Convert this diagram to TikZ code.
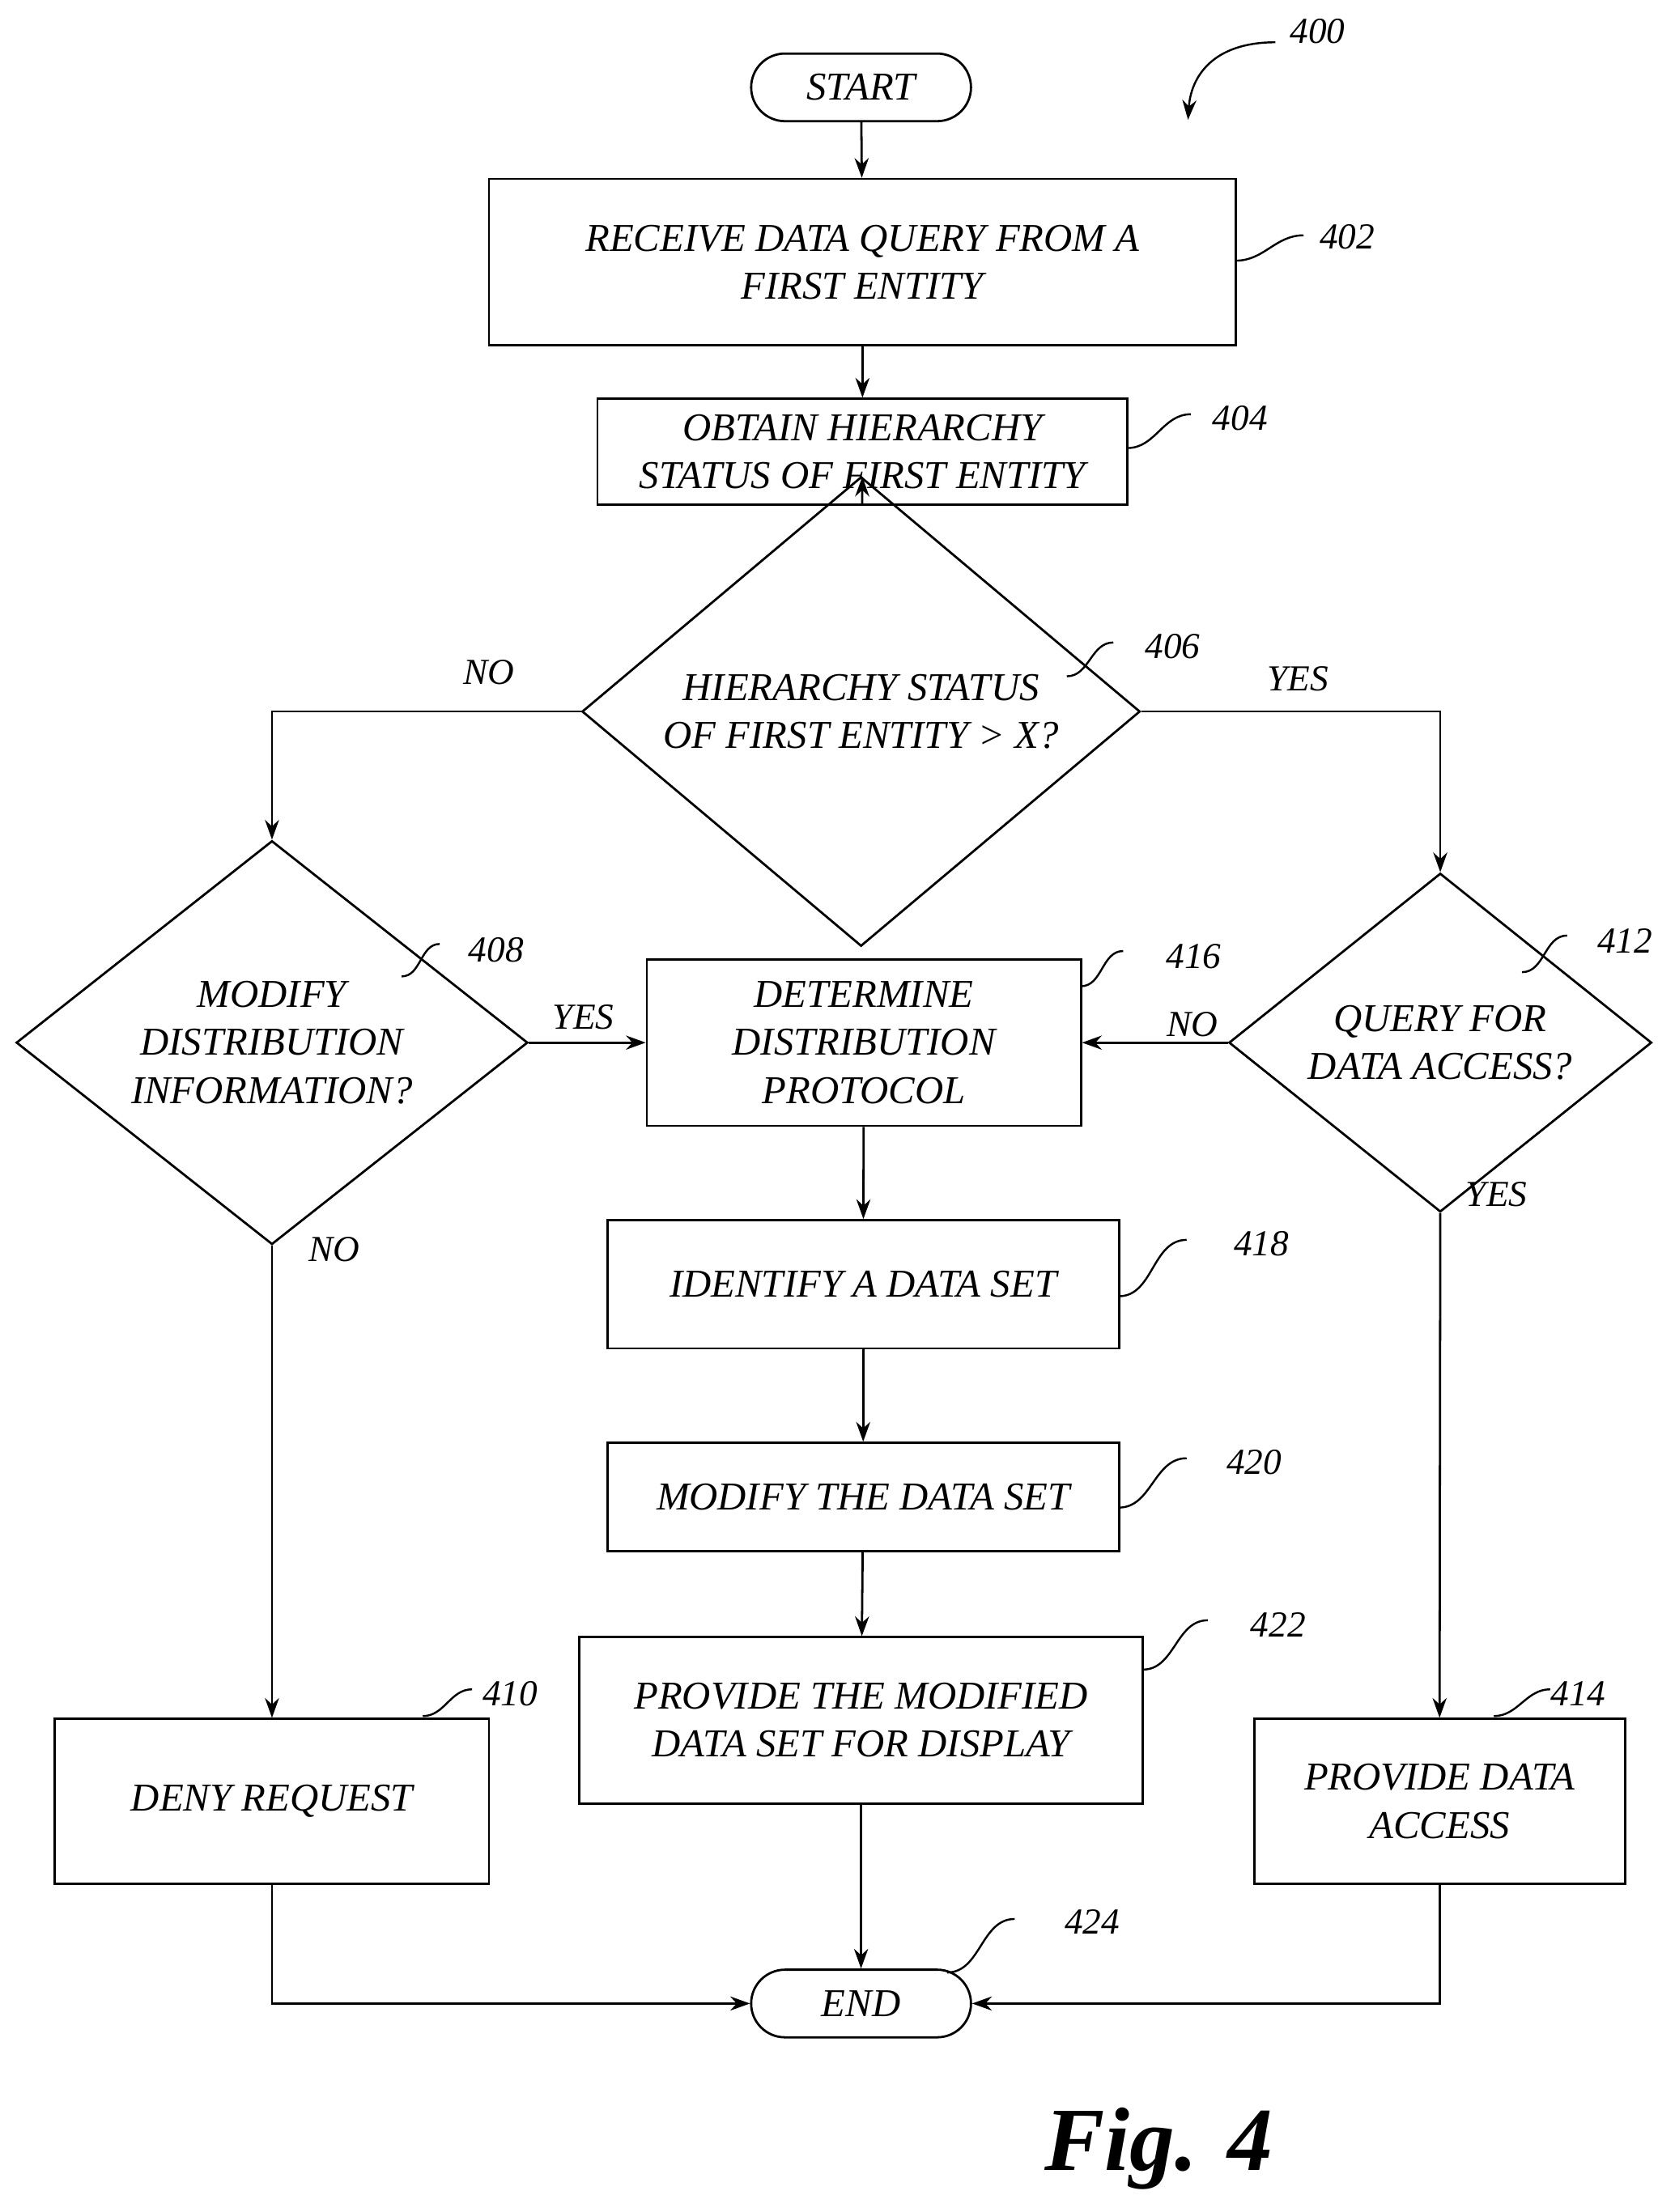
\documentclass[tikz,border=0pt]{standalone}
\usepackage{fontspec}
\setmainfont{Liberation Serif}
\usetikzlibrary{shapes.geometric,arrows.meta}
\begin{document}
\begin{tikzpicture}[x=0.5pt,y=-0.5pt,
  every node/.style={font=\fontsize{14}{17}\selectfont\itshape, align=center, inner sep=0pt},
  box/.style={draw, line width=0.8pt},
  term/.style={draw, line width=0.8pt, rounded corners=12pt, minimum width=78pt, minimum height=24pt},
  dia/.style={draw, diamond, line width=0.8pt},
  arr/.style={-{Stealth[length=7pt,width=5pt]}, line width=0.8pt},
  lead/.style={line width=0.7pt},
  ref/.style={font=\fontsize{13}{15}\selectfont\itshape},
  lab/.style={font=\fontsize{13}{15}\selectfont\itshape}]
\useasboundingbox (0,0) rectangle (1188,1570);
\node[term] (start) at (611,62) {START};
\node[box, minimum width=265pt, minimum height=59pt] (n402) at (612,186) {RECEIVE DATA QUERY FROM A\\FIRST ENTITY};
\node[box, minimum width=188pt, minimum height=37.5pt] (n404) at (612,320.5) {OBTAIN HIERARCHY\\STATUS OF FIRST ENTITY};
\node[dia, minimum width=198pt, minimum height=103pt] (n406) at (611,505) {HIERARCHY STATUS\\OF FIRST ENTITY > X?};
\node[dia, minimum width=181.5pt, minimum height=95pt] (n408) at (193,740) {MODIFY\\DISTRIBUTION\\INFORMATION?};
\node[dia, minimum width=150pt, minimum height=85pt] (n412) at (1022,740) {QUERY FOR\\DATA ACCESS?};
\node[box, minimum width=154pt, minimum height=59pt] (n416) at (613,740) {DETERMINE\\DISTRIBUTION\\PROTOCOL};
\node[box, minimum width=181.5pt, minimum height=45.5pt] (n418) at (612.5,911.5) {IDENTIFY A DATA SET};
\node[box, minimum width=181.5pt, minimum height=38.5pt] (n420) at (612.5,1062.5) {MODIFY THE DATA SET};
\node[box, minimum width=200pt, minimum height=59pt] (n422) at (611,1221) {PROVIDE THE MODIFIED\\DATA SET FOR DISPLAY};
\node[box, minimum width=154pt, minimum height=58.5pt] (n410) at (193,1278.5) {DENY REQUEST};
\node[box, minimum width=131.5pt, minimum height=58.5pt] (n414) at (1021.5,1278.5) {PROVIDE DATA\\ACCESS};
\node[term] (end) at (611,1422) {END};

\draw[arr] (start) -- (n402);
\draw[arr] (n402) -- (n404);
\draw[arr] (n404) -- (n406);
\draw[arr] (n406.west) -| (n408.north);
\draw[arr] (n406.east) -| (n412.north);
\draw[arr] (n408.east) -- (n416.west);
\draw[arr] (n412.west) -- (n416.east);
\draw[arr] (n416) -- (n418);
\draw[arr] (n418) -- (n420);
\draw[arr] (n420) -- (n422);
\draw[arr] (n422) -- (end);
\draw[arr] (n408.south) -- (n410.north);
\draw[arr] (n412.south) -- (n414.north);
\draw[arr] (n410.south) |- (end.west);
\draw[arr] (n414.south) |- (end.east);

\node[lab] (l1) at (347,477) {NO};
\node[lab] (l2) at (921,482) {YES};
\node[lab] (l3) at (414,722) {YES};
\node[lab] (l4) at (846,727) {NO};
\node[lab] (l5) at (237,887) {NO};
\node[lab] (l6) at (1062,848) {YES};

\foreach \name/\ax/\ay/\bx/\by/\lx/\ly/\t in {
 r402/877/185/925/167/956/168/402,
 r404/800/318/845/294/880/297/404,
 r406/757/480/790/456/832/459/406,
 r408/285/693/312/670/352/674/408,
 r416/767/700/797/675/847/679/416,
 r412/1080/690/1112/664/1153/668/412,
 r418/794/920/842/880/895/883/418,
 r420/794/1070/842/1035/890/1038/420,
 r422/811/1185/857/1150/907/1153/422,
 r410/300/1218/335/1199/362/1202/410,
 r414/1060/1218/1100/1199/1120/1202/414,
 r424/672/1400/720/1362/775/1364/424}{
 \coordinate (\name a) at (\ax,\ay);
 \coordinate (\name b) at (\bx,\by);
 \draw[lead] (\name a) to[out=0,in=180] (\name b);
 \node[ref] (\name) at (\lx,\ly) {\t};
}
\node[ref] (r400) at (935,22) {400};
\coordinate (a400) at (905,30);
\coordinate (b400) at (843,85);
\draw[arr, line width=0.7pt] (a400) .. controls (860,30) and (845,55) .. (b400);
\node[font=\fontsize{32}{36}\selectfont\bfseries\itshape] (fig) at (822,1525) {Fig. 4};
\end{tikzpicture}
\end{document}
